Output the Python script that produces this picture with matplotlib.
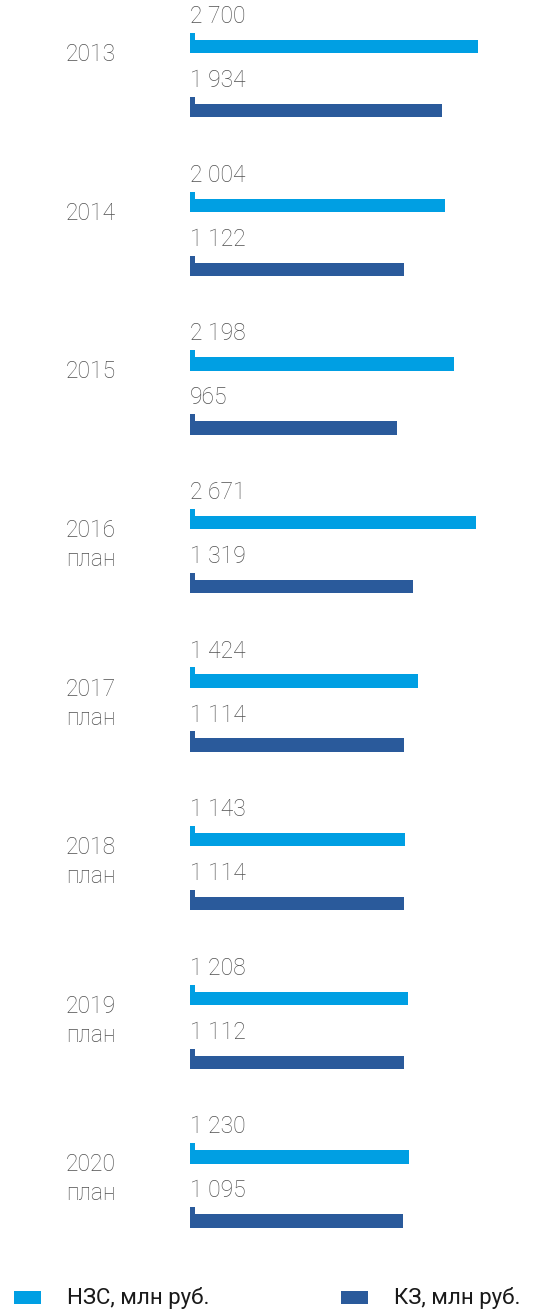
import matplotlib
matplotlib.use('Agg')
import matplotlib.pyplot as plt
from matplotlib.patches import Rectangle
from matplotlib.transforms import blended_transform_factory
import numpy as np

# data
years = ['2013', '2014', '2015', '2016', '2017', '2018', '2019', '2020']
plan = ['', '', '', 'план', 'план', 'план', 'план', 'план']
nzs = [2700, 2004, 2198, 2671, 1424, 1143, 1208, 1230]
kz = [1934, 1122, 965, 1319, 1114, 1114, 1112, 1095]
series_names = ['НЗС, млн руб.', 'КЗ, млн руб.']

c_nzs = '#009FE3'
c_kz = '#2A5A9B'
c_label = '#505050'
c_text = '#1A1A1A'

plt.rcParams['font.family'] = ['Roboto', 'DejaVu Sans']

W, H = 540, 1309
fig = plt.figure(figsize=(W / 100, H / 100), dpi=100)

# bar axes: starts at pixel x=190, full height
ax = fig.add_axes([190 / W, 0, 1 - 190 / W, 1])
px_per_unit = 0.0467
x0 = -161.6 / px_per_unit
ax.set_xlim(x0, x0 + (W - 190) / px_per_unit)

group_px = 158.6
first_px = 46.7
ax.set_ylim((H - first_px) / group_px, -first_px / group_px)
ax.axis('off')

y = np.arange(len(years))
kz_off = 64 / group_px
bar_h = 13.5 / group_px
stub_h = 7 / group_px
stub_w = 5 / px_per_unit

for yy, vals, col in [(y, nzs, c_nzs), (y + kz_off, kz, c_kz)]:
    vals = np.array(vals)
    ax.barh(yy, vals - x0, left=x0, height=bar_h, color=col, linewidth=0)
    # small stub at left edge of each bar
    ax.barh(yy - bar_h / 2 - stub_h / 2, stub_w, left=x0, height=stub_h,
            color=col, linewidth=0)
    for v, p in zip(vals, yy):
        s = f'{v:,}'.replace(',', ' ')
        ax.text(x0, p - 30 / group_px, s, ha='left', va='center',
                fontsize=16.5, color=c_label, fontweight='light')

# year labels
trans = blended_transform_factory(fig.transFigure, ax.transData)
for i, (yr, pl) in enumerate(zip(years, plan)):
    ax.text(66 / W, i + 8 / group_px, yr, transform=trans, ha='left',
            va='center', fontsize=16.5, color=c_label, fontweight='light')
    if pl:
        ax.text(66 / W, i + 37 / group_px, pl, transform=trans, ha='left',
                va='center', fontsize=16.5, color=c_label, fontweight='light')

# legend
for (sx, tx), name, col in zip([(14, 67), (341, 394)], series_names, [c_nzs, c_kz]):
    fig.patches.append(Rectangle((sx / W, 1 - 1304 / H), 27 / W, 13 / H,
                                 transform=fig.transFigure, color=col,
                                 linewidth=0))
    fig.text(tx / W, 1 - 1298 / H, name, ha='left', va='center',
             fontsize=16, color=c_text)

fig.savefig('out.png', dpi=100)
